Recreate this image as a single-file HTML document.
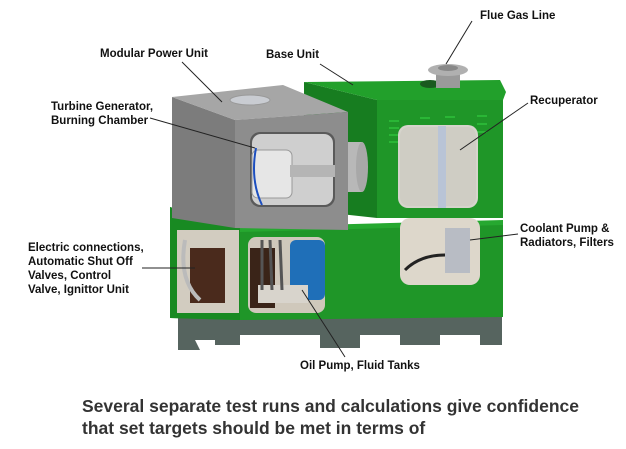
<!DOCTYPE html>
<html><head><meta charset="utf-8"><style>
html,body{margin:0;padding:0;background:#fff;}
svg{display:block}
text{font-family:"Liberation Sans",sans-serif;}
</style></head><body>
<svg width="626" height="449" viewBox="0 0 626 449" xmlns="http://www.w3.org/2000/svg">
<!-- skid -->
<path d="M178 312 L502 312 L502 345 L480 345 L480 335 L440 335 L440 345 L400 345 L400 335 L360 335 L360 348 L320 348 L320 335 L240 335 L240 345 L215 345 L215 340 L195 340 L200 350 L178 350 Z" fill="#56645f"/>
<!-- green top box side -->
<polygon points="304,82 377,100 377,218 304,210" fill="#177d20"/>
<!-- green top face -->
<polygon points="304,82 500,80 506,92 503,100 377,100" fill="#22a02b"/>
<!-- green front -->
<rect x="377" y="100" width="126" height="118" fill="#1f9628"/>
<!-- vents -->
<g stroke="#2fc03a" stroke-width="1.5">
<line x1="389" y1="121" x2="399" y2="121"/><line x1="389" y1="128" x2="399" y2="128"/><line x1="389" y1="135" x2="399" y2="135"/><line x1="389" y1="142" x2="399" y2="142"/>
<line x1="420" y1="118" x2="430" y2="118"/><line x1="445" y1="117" x2="455" y2="117"/><line x1="477" y1="116" x2="487" y2="116"/><line x1="477" y1="124" x2="487" y2="124"/><line x1="477" y1="132" x2="487" y2="132"/>
</g>
<!-- recuperator window -->
<rect x="398" y="125" width="80" height="83" rx="10" fill="#d6d4cc"/>
<rect x="400" y="127" width="76" height="79" rx="9" fill="#cfcdc4"/>
<rect x="438" y="126" width="8" height="82" fill="#b9c4d6"/>
<!-- flue -->
<ellipse cx="430" cy="84" rx="10" ry="4" fill="#1a5a1f"/>
<rect x="436" y="70" width="24" height="18" fill="#9a9a9a"/>
<ellipse cx="448" cy="70" rx="20" ry="6" fill="#b0b0b0"/>
<ellipse cx="448" cy="68" rx="10" ry="3" fill="#888"/>
<!-- lower green box -->
<path d="M170 207 Q200 218 240 227 L503 222 L503 317 L240 320 L170 318 Z" fill="#1f9628"/>
<polygon points="170,207 240,227 240,320 170,318" fill="#188a22"/>
<polygon points="240,227 503,220 503,225 240,232" fill="#26a830"/>
<!-- lower left side opening -->
<rect x="177" y="230" width="62" height="83" fill="#d2ccc0"/>
<rect x="190" y="248" width="35" height="55" fill="#4a2a1c"/>
<path d="M185 240 Q178 280 200 300" stroke="#bbb" stroke-width="4" fill="none"/>
<!-- lower left window -->
<rect x="248" y="237" width="77" height="76" rx="8" fill="#cfc8bb"/>
<rect x="250" y="248" width="25" height="60" fill="#3a2418"/>
<rect x="290" y="240" width="35" height="60" rx="6" fill="#1f6fb8"/>
<rect x="258" y="285" width="50" height="18" fill="#d8d4cc"/>
<g stroke="#555" stroke-width="3"><line x1="262" y1="240" x2="262" y2="290"/><line x1="270" y1="240" x2="272" y2="290"/><line x1="280" y1="240" x2="282" y2="290"/></g>
<!-- lower right window -->
<rect x="400" y="218" width="80" height="67" rx="10" fill="#ddd7cb"/>
<rect x="445" y="228" width="25" height="45" fill="#b8bcc4"/>
<path d="M405 270 Q420 255 445 255" stroke="#222" stroke-width="3" fill="none"/>
<!-- gray module -->
<polygon points="172,97 235,120 235,228 172,218" fill="#7c7c7c"/>
<polygon points="172,97 283,85 348,112 235,120" fill="#a6a6a6"/>
<polygon points="235,120 348,112 348,230 235,228" fill="#8d8d8d"/>
<ellipse cx="250" cy="100" rx="20" ry="5" fill="#c9ccd2" stroke="#999"/>
<!-- turbine window -->
<rect x="250" y="132" width="85" height="75" rx="10" fill="#5a5a5a"/>
<rect x="252" y="134" width="81" height="71" rx="9" fill="#cfcfcf"/>
<rect x="252" y="150" width="40" height="48" rx="6" fill="#e6e6e6" stroke="#999"/>
<path d="M256 148 Q250 180 262 205" stroke="#1d4fbf" stroke-width="2" fill="none"/>
<rect x="290" y="165" width="45" height="12" fill="#b5b5b5"/>
<!-- pipe to recuperator -->
<rect x="348" y="142" width="14" height="50" fill="#b8b8b8"/>
<ellipse cx="362" cy="167" rx="6" ry="25" fill="#a8a8a8"/>
<!-- leader lines -->
<g stroke="#222" stroke-width="1">
<line x1="472" y1="21" x2="446" y2="64"/>
<line x1="182" y1="62" x2="222" y2="102"/>
<line x1="320" y1="64" x2="353" y2="85"/>
<line x1="528" y1="103" x2="460" y2="150"/>
<line x1="150" y1="118" x2="255" y2="148"/>
<line x1="142" y1="268" x2="195" y2="268"/>
<line x1="518" y1="234" x2="470" y2="240"/>
<line x1="345" y1="357" x2="302" y2="290"/>
</g>
<!-- labels -->
<g font-size="11.5" font-weight="bold" fill="#111">
<text x="480" y="19">Flue Gas Line</text>
<text x="100" y="57">Modular Power Unit</text>
<text x="266" y="58">Base Unit</text>
<text x="530" y="104">Recuperator</text>
<text x="51" y="110">Turbine Generator,</text>
<text x="51" y="124">Burning Chamber</text>
<text x="28" y="251">Electric connections,</text>
<text x="28" y="265">Automatic Shut Off</text>
<text x="28" y="279">Valves, Control</text>
<text x="28" y="293">Valve, Ignittor Unit</text>
<text x="520" y="232">Coolant Pump &amp;</text>
<text x="520" y="246">Radiators, Filters</text>
<text x="300" y="369">Oil Pump, Fluid Tanks</text>
</g>
<g font-size="17.5" font-weight="bold" fill="#333">
<text x="82" y="412">Several separate test runs and calculations give confidence</text>
<text x="82" y="434">that set targets should be met in terms of</text>
</g>
</svg>
</body></html>
